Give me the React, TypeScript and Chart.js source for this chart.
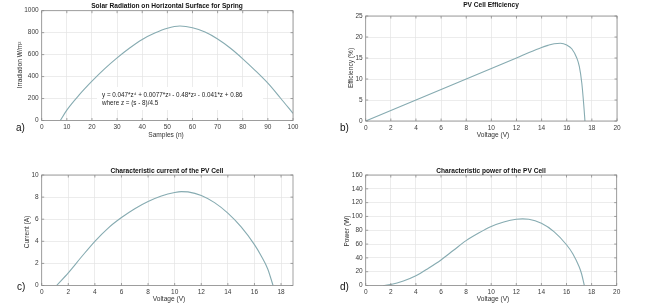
import React, { useEffect, useRef } from "react";
import { Chart, registerables } from "chart.js";
Chart.register(...registerables);

// Panel a: solar radiation
const solarSamples = [7.4, 10, 15, 20, 25, 30, 35, 40, 45, 50, 55, 60, 65, 70, 75, 80, 85, 90, 95, 100];
const solarIrradiation = [0, 95, 235, 358, 470, 570, 660, 738, 796, 840, 860, 845, 805, 742, 660, 562, 455, 340, 205, 65];

// Panel b: efficiency
const effVoltage = [0, 2, 4, 6, 8, 10, 12, 13, 14, 14.5, 15, 15.5, 16, 16.4, 16.8, 17, 17.2, 17.35, 17.45];
const effPercent = [0, 2.5, 5, 7.5, 10, 12.5, 15, 16.3, 17.5, 18, 18.4, 18.5, 18.1, 17.2, 15, 13, 9, 4, 0];

// Panel c: current
const curVoltage = [1.12, 2, 3, 4, 5, 6, 7, 8, 9, 10, 10.5, 11, 12, 13, 14, 15, 16, 16.5, 17, 17.4];
const curAmps = [0, 1.15, 2.6, 4.0, 5.2, 6.15, 6.95, 7.6, 8.1, 8.42, 8.5, 8.47, 8.15, 7.5, 6.55, 5.3, 3.7, 2.7, 1.5, 0];

// Panel d: power
const powVoltage = [1.4, 2, 3, 4, 5, 6, 7, 8, 9, 10, 11, 12, 12.5, 13, 14, 15, 16, 16.5, 17, 17.2, 17.42];
const powWatts = [0, 1.5, 6.5, 14, 25, 37, 51, 65, 76, 85.5, 92, 96, 96.5, 96, 90, 78, 59, 46, 27.5, 17, 0];

const equationLines = [
  "y = 0.047*z\u2074 + 0.0077*z\u00b3 - 0.48*z\u00b2 - 0.041*z + 0.86",
  "where z = (s - 8)/4.5",
];

const FONT = "'Liberation Sans', Arial, sans-serif";
const LINE_COLOR = "#86abb1";

type PanelSpec = {
  id: string;
  left: number;
  top: number;
  w: number;
  h: number;
  area: { l: number; t: number; r: number; b: number };
  xs: number[];
  ys: number[];
  xMin: number;
  xMax: number;
  xStep: number;
  yMin: number;
  yMax: number;
  yStep: number;
  title: string;
  titlePos: [number, number];
  xTitle: string;
  xTitlePos: [number, number];
  yTitle: string;
  yTitlePos: [number, number];
  letter: string;
  letterPos: [number, number];
  equation?: boolean;
};

const panels: PanelSpec[] = [
  {
    id: "a", left: 0, top: 0, w: 324, h: 152,
    area: { l: 41.7, t: 10.7, r: 293, b: 120.5 },
    xs: solarSamples, ys: solarIrradiation,
    xMin: 0, xMax: 100, xStep: 10, yMin: 0, yMax: 1000, yStep: 200,
    title: "Solar Radiation on Horizontal Surface for Spring", titlePos: [167, 5.7],
    xTitle: "Samples (n)", xTitlePos: [166, 135],
    yTitle: "Irradiation W/m\u00b2", yTitlePos: [20, 65],
    letter: "a)", letterPos: [16, 128],
    equation: true,
  },
  {
    id: "b", left: 324, top: 0, w: 324, h: 152,
    area: { l: 41.7, t: 16, r: 293, b: 121 },
    xs: effVoltage, ys: effPercent,
    xMin: 0, xMax: 20, xStep: 2, yMin: 0, yMax: 25, yStep: 5,
    title: "PV Cell Efficiency", titlePos: [167, 4.7],
    xTitle: "Voltage (V)", xTitlePos: [169, 134.7],
    yTitle: "Efficiency (%)", yTitlePos: [27, 68],
    letter: "b)", letterPos: [16, 128],
  },
  {
    id: "c", left: 0, top: 152, w: 324, h: 153,
    area: { l: 41.7, t: 23, r: 293, b: 133.5 },
    xs: curVoltage, ys: curAmps,
    xMin: 0, xMax: 18.9, xStep: 2, yMin: 0, yMax: 10, yStep: 2,
    title: "Characteristic current of the PV Cell", titlePos: [167, 19],
    xTitle: "Voltage (V)", xTitlePos: [169, 146.7],
    yTitle: "Current (A)", yTitlePos: [27, 80],
    letter: "c)", letterPos: [17, 135.7],
  },
  {
    id: "d", left: 324, top: 152, w: 324, h: 153,
    area: { l: 41.7, t: 23, r: 292.7, b: 133.5 },
    xs: powVoltage, ys: powWatts,
    xMin: 0, xMax: 20, xStep: 2, yMin: 0, yMax: 160, yStep: 20,
    title: "Characteristic power of the PV Cell", titlePos: [167, 19],
    xTitle: "Voltage (V)", xTitlePos: [169, 146.7],
    yTitle: "Power (W)", yTitlePos: [23, 79],
    letter: "d)", letterPos: [16, 135.7],
  },
];

function makeDecorPlugin(p: PanelSpec) {
  return {
    id: "decor" + p.id,
    beforeDatasetsDraw(chart: any) {
      if (!p.equation) return;
      const ctx = chart.ctx;
      ctx.save();
      ctx.fillStyle = "#ffffff";
      ctx.fillRect(97, 87, 166, 23);
      ctx.fillStyle = "#222222";
      ctx.font = `6.3px ${FONT}`;
      ctx.textAlign = "left";
      ctx.textBaseline = "middle";
      ctx.fillText(equationLines[0], 102, 95.5);
      ctx.fillText(equationLines[1], 102, 103.5);
      ctx.restore();
    },
    afterDraw(chart: any) {
      const ctx = chart.ctx;
      const a = chart.chartArea;
      ctx.save();
      ctx.strokeStyle = "#8a8a8a";
      ctx.lineWidth = 0.8;
      ctx.strokeRect(a.left, a.top, a.right - a.left, a.bottom - a.top);
      const xs = chart.scales.x;
      const ys = chart.scales.y;
      ctx.beginPath();
      xs.ticks.forEach((t: any) => {
        const px = xs.getPixelForValue(t.value);
        ctx.moveTo(px, a.bottom);
        ctx.lineTo(px, a.bottom - 2.5);
        ctx.moveTo(px, a.top);
        ctx.lineTo(px, a.top + 2.5);
      });
      ys.ticks.forEach((t: any) => {
        const py = ys.getPixelForValue(t.value);
        ctx.moveTo(a.left, py);
        ctx.lineTo(a.left + 2.5, py);
        ctx.moveTo(a.right, py);
        ctx.lineTo(a.right - 2.5, py);
      });
      ctx.stroke();
      ctx.fillStyle = "#111111";
      ctx.font = `bold 6.6px ${FONT}`;
      ctx.textAlign = "center";
      ctx.textBaseline = "middle";
      ctx.fillText(p.title, p.titlePos[0], p.titlePos[1]);
      ctx.fillStyle = "#333333";
      ctx.font = `6.6px ${FONT}`;
      ctx.fillText(p.xTitle, p.xTitlePos[0], p.xTitlePos[1]);
      ctx.save();
      ctx.translate(p.yTitlePos[0], p.yTitlePos[1]);
      ctx.rotate(-Math.PI / 2);
      ctx.fillText(p.yTitle, 0, 0);
      ctx.restore();
      ctx.fillStyle = "#111111";
      ctx.font = `10px ${FONT}`;
      ctx.textAlign = "left";
      ctx.fillText(p.letter, p.letterPos[0], p.letterPos[1]);
      ctx.restore();
    },
  };
}

function Panel({ p }: { p: PanelSpec }) {
  const ref = useRef<HTMLCanvasElement | null>(null);
  useEffect(() => {
    if (!ref.current) return;
    const tickFont = { family: FONT, size: 6.5 };
    const plain = (v: any) => String(Math.round(Number(v) * 100) / 100);
    const chart = new Chart(ref.current, {
      type: "line",
      data: {
        datasets: [
          {
            data: p.xs.map((x, i) => ({ x, y: p.ys[i] })),
            borderColor: LINE_COLOR,
            borderWidth: 1.1,
            pointRadius: 0,
            fill: false,
            cubicInterpolationMode: "monotone",
          },
        ],
      },
      options: {
        animation: false,
        responsive: false,
        devicePixelRatio: 1,
        layout: {
          padding: { left: 0, top: p.area.t, right: p.w - p.area.r, bottom: 0 },
        },
        plugins: { legend: { display: false }, tooltip: { enabled: false }, title: { display: false } },
        scales: {
          x: {
            type: "linear",
            min: p.xMin,
            max: p.xMax,
            ticks: { stepSize: p.xStep, includeBounds: false, font: tickFont, color: "#3a3a3a", padding: 3, maxRotation: 0, callback: plain },
            grid: { color: "#e4e4e4", lineWidth: 0.7, drawTicks: false },
            border: { display: false },
            afterFit: (s: any) => { s.height = p.h - p.area.b; },
          },
          y: {
            type: "linear",
            min: p.yMin,
            max: p.yMax,
            ticks: { stepSize: p.yStep, font: tickFont, color: "#3a3a3a", padding: 3, callback: plain },
            grid: { color: "#e4e4e4", lineWidth: 0.7, drawTicks: false },
            border: { display: false },
            afterFit: (s: any) => { s.width = p.area.l; },
          },
        },
      } as any,
      plugins: [makeDecorPlugin(p)],
    });
    return () => chart.destroy();
  }, [p]);
  return (
    <canvas
      ref={ref}
      width={p.w}
      height={p.h}
      style={{ position: "absolute", left: p.left, top: p.top, width: p.w, height: p.h }}
    />
  );
}

export default function App() {
  return (
    <div style={{ position: "absolute", left: 0, top: 0, width: 648, height: 305, background: "#ffffff", overflow: "hidden" }}>
      {panels.map((p) => (
        <Panel key={p.id} p={p} />
      ))}
    </div>
  );
}
